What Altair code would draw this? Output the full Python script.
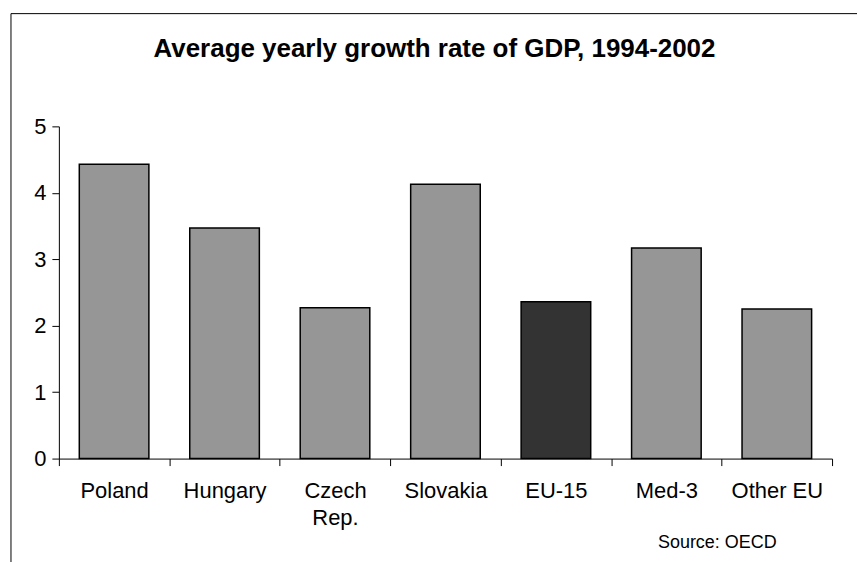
import altair as alt
import pandas as pd

categories = ["Poland", "Hungary", "Czech Rep.", "Slovakia", "EU-15", "Med-3", "Other EU"]
values = [4.43, 3.47, 2.27, 4.13, 2.36, 3.17, 2.25]
groups = ["other", "other", "other", "other", "EU-15", "other", "other"]
y_ticks = [0, 1, 2, 3, 4, 5]
title_text = "Average yearly growth rate of GDP, 1994-2002"

df = pd.DataFrame({"country": categories, "growth": values, "group": groups})

FONT = "Liberation Sans"

bars = alt.Chart(df).mark_bar(
    width=alt.RelativeBandSize(0.63), stroke="black", strokeWidth=1.5
).encode(
    x=alt.X(
        "country:N",
        sort=categories,
        scale=alt.Scale(paddingInner=0, paddingOuter=0),
        axis=alt.Axis(
            labelAngle=0,
            tickBand="extent",
            tickSize=7,
            labelPadding=15,
            labelFontSize=22,
            labelLineHeight=27,
            labelExpr="datum.label == 'Czech Rep.' ? ['Czech', 'Rep.'] : datum.label",
            title="Source: OECD",
            titleFontSize=18,
            titleFontWeight="normal",
            titleAnchor="start",
            titleAlign="left",
            titleBaseline="alphabetic",
            titleX=600,
            titleY=89,
        ),
    ),
    y=alt.Y(
        "growth:Q",
        scale=alt.Scale(domain=[0, 5], nice=False),
        axis=alt.Axis(values=y_ticks, tickSize=7, labelPadding=6, labelFontSize=22,
                      grid=False, title=None),
    ),
    color=alt.Color("group:N", scale=alt.Scale(domain=["other", "EU-15"],
                                                range=["#969696", "#333333"]), legend=None),
)

frame_df = pd.DataFrame({"k": [0]})
left_border = alt.Chart(frame_df).mark_rule(color="black", strokeWidth=1).encode(
    x=alt.value(-48), y=alt.value(-113), y2=alt.value(437)
)
top_border = alt.Chart(frame_df).mark_rule(color="black", strokeWidth=1).encode(
    x=alt.value(-48), x2=alt.value(800), y=alt.value(-113)
)
title_df = pd.DataFrame({"t": [title_text]})
title = alt.Chart(title_df).mark_text(
    font=FONT, fontSize=26, fontWeight="bold", color="black",
    align="center", baseline="alphabetic"
).encode(text="t:N", x=alt.value(376.5), y=alt.value(-70))

chart = alt.layer(bars, left_border, top_border, title).properties(
    width=775,
    height=333,
    padding={"left": 10, "top": 12, "right": 0, "bottom": 0},
    background="white",
).configure_view(stroke=None).configure_axis(
    labelFont=FONT, titleFont=FONT, labelColor="black", titleColor="black",
    domainColor="black", tickColor="black", domainWidth=1, tickWidth=1,
)

chart.save("out.html", embed_options={"renderer": "svg", "actions": False})
